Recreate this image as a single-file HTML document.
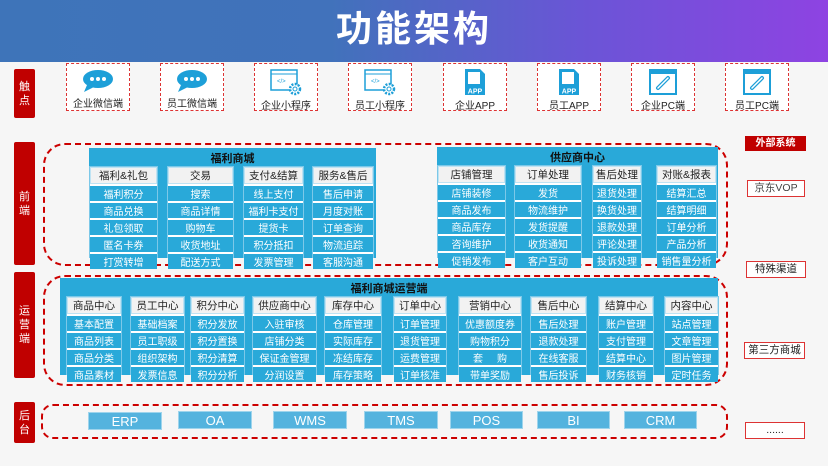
<!DOCTYPE html>
<html><head><meta charset="utf-8">
<style>
*{margin:0;padding:0;box-sizing:border-box}
body{width:828px;height:466px;overflow:hidden;background:#f6f6f6;font-family:"Liberation Sans","Noto Sans CJK SC",sans-serif;position:relative}
.a{position:absolute}
.hdr{left:0;top:0;width:828px;height:62px;background:linear-gradient(90deg,#3e74b9 0%,#4172bb 40%,#6a55d6 70%,#8e43e2 100%)}
.title{left:0;top:0;width:828px;height:62px;line-height:58px;text-align:center;color:#fff;font-size:36px;font-weight:bold;letter-spacing:3px}
.lab{background:#c00000;color:#fff;font-size:11px;width:21px;display:flex;align-items:center;justify-content:center;text-align:center;line-height:14px;border-radius:2px}
.tp{width:64px;height:48px;border:1.5px dashed #d33;text-align:center;font-size:10px;color:#222;background:#fff}
.tp svg{display:block;margin:4px auto 1px}
.dash{border:2.5px dashed #c00;border-radius:22px}
.panel{background:#29a9d9}
.ph{color:#111;font-size:11px;font-weight:bold;text-align:center}
.col{background:#fff;display:flex;flex-direction:column;gap:2px;border:1px solid #7cc8e8}
.col .h{background:#f2f2f2;color:#222;font-size:10.5px;text-align:center;border:1px solid #bfe3f3}
.col .i{background:#29a9d9;color:#fff;font-size:10px;text-align:center;flex:1;display:flex;align-items:center;justify-content:center}
.bk{background:#54b3de;color:#fff;font-size:13px;text-align:center;height:18px;line-height:18px;border:1px solid #9ed4ec}
.ext{border:1.5px solid #d33;background:#fff;font-size:10.5px;color:#222;text-align:center}
</style></head><body>
<div class="a hdr"></div>
<div class="a title">功能架构</div>

<div class="a lab" style="left:14px;top:69px;height:49px">触<br>点</div>
<div class="a lab" style="left:14px;top:142px;height:123px">前<br>端</div>
<div class="a lab" style="left:14px;top:272px;height:106px">运<br>营<br>端</div>
<div class="a lab" style="left:14px;top:402px;height:41px">后<br>台</div>

<!-- touch points -->
<div class="a tp" style="left:66px;top:63px"><svg width="34" height="26" viewBox="0 0 34 26"><ellipse cx="17" cy="11" rx="15" ry="9" fill="#1d9fd8"/><path d="M6 17 L3 24 L13 19Z" fill="#1d9fd8"/><circle cx="11" cy="11" r="2" fill="#fff"/><circle cx="17" cy="11" r="2" fill="#fff"/><circle cx="23" cy="11" r="2" fill="#fff"/></svg>企业微信端</div>
<div class="a tp" style="left:160px;top:63px"><svg width="34" height="26" viewBox="0 0 34 26"><ellipse cx="17" cy="11" rx="15" ry="9" fill="#1d9fd8"/><path d="M6 17 L3 24 L13 19Z" fill="#1d9fd8"/><circle cx="11" cy="11" r="2" fill="#fff"/><circle cx="17" cy="11" r="2" fill="#fff"/><circle cx="23" cy="11" r="2" fill="#fff"/></svg>员工微信端</div>
<div class="a tp" style="left:254px;top:63px"><svg width="34" height="28" viewBox="0 0 34 28"><rect x="2" y="2" width="26" height="20" fill="#fff" stroke="#1d9fd8" stroke-width="1.5"/><line x1="2" y1="6" x2="28" y2="6" stroke="#1d9fd8"/><text x="8" y="15" font-size="6" fill="#1d9fd8">&lt;/&gt;</text><circle cx="26" cy="21" r="5" fill="#fff" stroke="#1d9fd8" stroke-width="2.5" stroke-dasharray="2 1.3"/><circle cx="26" cy="21" r="2" fill="none" stroke="#1d9fd8"/></svg>企业小程序</div>
<div class="a tp" style="left:348px;top:63px"><svg width="34" height="28" viewBox="0 0 34 28"><rect x="2" y="2" width="26" height="20" fill="#fff" stroke="#1d9fd8" stroke-width="1.5"/><line x1="2" y1="6" x2="28" y2="6" stroke="#1d9fd8"/><text x="8" y="15" font-size="6" fill="#1d9fd8">&lt;/&gt;</text><circle cx="26" cy="21" r="5" fill="#fff" stroke="#1d9fd8" stroke-width="2.5" stroke-dasharray="2 1.3"/><circle cx="26" cy="21" r="2" fill="none" stroke="#1d9fd8"/></svg>员工小程序</div>
<div class="a tp" style="left:443px;top:63px"><svg width="24" height="28" viewBox="0 0 24 28"><path d="M2 1 H17 L22 6 V27 H2Z" fill="#1d9fd8"/><rect x="5" y="4" width="12" height="12" fill="#fff"/><rect x="3" y="19" width="18" height="7" fill="#1d9fd8"/><text x="12" y="25.5" font-size="7" font-weight="bold" fill="#fff" text-anchor="middle">APP</text></svg>企业APP</div>
<div class="a tp" style="left:537px;top:63px"><svg width="24" height="28" viewBox="0 0 24 28"><path d="M2 1 H17 L22 6 V27 H2Z" fill="#1d9fd8"/><rect x="5" y="4" width="12" height="12" fill="#fff"/><rect x="3" y="19" width="18" height="7" fill="#1d9fd8"/><text x="12" y="25.5" font-size="7" font-weight="bold" fill="#fff" text-anchor="middle">APP</text></svg>员工APP</div>
<div class="a tp" style="left:631px;top:63px"><svg width="30" height="28" viewBox="0 0 30 28"><rect x="1" y="1" width="28" height="26" fill="#1d9fd8"/><rect x="3" y="6" width="24" height="19" fill="#fff"/><path d="M10 20 L20 10" stroke="#1d9fd8" stroke-width="4" stroke-linecap="round"/><path d="M10 20 L20 10" stroke="#fff" stroke-width="1.5" stroke-linecap="round"/></svg>企业PC端</div>
<div class="a tp" style="left:725px;top:63px"><svg width="30" height="28" viewBox="0 0 30 28"><rect x="1" y="1" width="28" height="26" fill="#1d9fd8"/><rect x="3" y="6" width="24" height="19" fill="#fff"/><path d="M10 20 L20 10" stroke="#1d9fd8" stroke-width="4" stroke-linecap="round"/><path d="M10 20 L20 10" stroke="#fff" stroke-width="1.5" stroke-linecap="round"/></svg>员工PC端</div>

<!-- front -->
<div class="a dash" style="left:43px;top:143px;width:685px;height:123px"></div>
<div class="a panel" style="left:89px;top:148px;width:287px;height:110px"></div>
<div class="a ph" style="left:89px;top:150px;width:287px">福利商城</div>
<div class="a col" style="left:89px;top:166px;width:69px;height:92px"><div class="h">福利&amp;礼包</div><div class="i">福利积分</div><div class="i">商品兑换</div><div class="i">礼包领取</div><div class="i">匿名卡券</div><div class="i">打赏转增</div></div>
<div class="a col" style="left:167px;top:166px;width:67px;height:92px"><div class="h">交易</div><div class="i">搜索</div><div class="i">商品详情</div><div class="i">购物车</div><div class="i">收货地址</div><div class="i">配送方式</div></div>
<div class="a col" style="left:243px;top:166px;width:61px;height:92px"><div class="h">支付&amp;结算</div><div class="i">线上支付</div><div class="i">福利卡支付</div><div class="i">提货卡</div><div class="i">积分抵扣</div><div class="i">发票管理</div></div>
<div class="a col" style="left:312px;top:166px;width:62px;height:92px"><div class="h">服务&amp;售后</div><div class="i">售后申请</div><div class="i">月度对账</div><div class="i">订单查询</div><div class="i">物流追踪</div><div class="i">客服沟通</div></div>

<div class="a panel" style="left:437px;top:147px;width:281px;height:111px"></div>
<div class="a ph" style="left:437px;top:149px;width:281px">供应商中心</div>
<div class="a col" style="left:437px;top:165px;width:69px;height:93px"><div class="h">店铺管理</div><div class="i">店铺装修</div><div class="i">商品发布</div><div class="i">商品库存</div><div class="i">咨询维护</div><div class="i">促销发布</div></div>
<div class="a col" style="left:514px;top:165px;width:68px;height:93px"><div class="h">订单处理</div><div class="i">发货</div><div class="i">物流维护</div><div class="i">发货提醒</div><div class="i">收货通知</div><div class="i">客户互动</div></div>
<div class="a col" style="left:592px;top:165px;width:50px;height:93px"><div class="h">售后处理</div><div class="i">退货处理</div><div class="i">换货处理</div><div class="i">退款处理</div><div class="i">评论处理</div><div class="i">投诉处理</div></div>
<div class="a col" style="left:656px;top:165px;width:61px;height:93px"><div class="h">对账&amp;报表</div><div class="i">结算汇总</div><div class="i">结算明细</div><div class="i">订单分析</div><div class="i">产品分析</div><div class="i">销售量分析</div></div>

<!-- ops -->
<div class="a dash" style="left:43px;top:275px;width:685px;height:111px"></div>
<div class="a panel" style="left:60px;top:278px;width:658px;height:97px"></div>
<div class="a ph" style="left:60px;top:280px;width:658px">福利商城运营端</div>
<div class="a col" style="left:66px;top:296px;width:56px;height:79px"><div class="h">商品中心</div><div class="i">基本配置</div><div class="i">商品列表</div><div class="i">商品分类</div><div class="i">商品素材</div></div>
<div class="a col" style="left:130px;top:296px;width:55px;height:79px"><div class="h">员工中心</div><div class="i">基础档案</div><div class="i">员工职级</div><div class="i">组织架构</div><div class="i">发票信息</div></div>
<div class="a col" style="left:190px;top:296px;width:55px;height:79px"><div class="h">积分中心</div><div class="i">积分发放</div><div class="i">积分置换</div><div class="i">积分清算</div><div class="i">积分分析</div></div>
<div class="a col" style="left:252px;top:296px;width:65px;height:79px"><div class="h">供应商中心</div><div class="i">入驻审核</div><div class="i">店铺分类</div><div class="i">保证金管理</div><div class="i">分润设置</div></div>
<div class="a col" style="left:324px;top:296px;width:58px;height:79px"><div class="h">库存中心</div><div class="i">仓库管理</div><div class="i">实际库存</div><div class="i">冻结库存</div><div class="i">库存策略</div></div>
<div class="a col" style="left:393px;top:296px;width:54px;height:79px"><div class="h">订单中心</div><div class="i">订单管理</div><div class="i">退货管理</div><div class="i">运费管理</div><div class="i">订单核准</div></div>
<div class="a col" style="left:458px;top:296px;width:64px;height:79px"><div class="h">营销中心</div><div class="i">优惠额度券</div><div class="i">购物积分</div><div class="i">套&nbsp;&nbsp;&nbsp;&nbsp;&nbsp;购</div><div class="i">带单奖励</div></div>
<div class="a col" style="left:530px;top:296px;width:57px;height:79px"><div class="h">售后中心</div><div class="i">售后处理</div><div class="i">退款处理</div><div class="i">在线客服</div><div class="i">售后投诉</div></div>
<div class="a col" style="left:598px;top:296px;width:56px;height:79px"><div class="h">结算中心</div><div class="i">账户管理</div><div class="i">支付管理</div><div class="i">结算中心</div><div class="i">财务核销</div></div>
<div class="a col" style="left:664px;top:296px;width:55px;height:79px"><div class="h">内容中心</div><div class="i">站点管理</div><div class="i">文章管理</div><div class="i">图片管理</div><div class="i">定时任务</div></div>

<!-- backend -->
<div class="a dash" style="left:41px;top:404px;width:687px;height:35px;border-radius:12px"></div>
<div class="a bk" style="left:88px;top:412px;width:74px">ERP</div>
<div class="a bk" style="left:178px;top:411px;width:74px">OA</div>
<div class="a bk" style="left:273px;top:411px;width:74px">WMS</div>
<div class="a bk" style="left:364px;top:411px;width:74px">TMS</div>
<div class="a bk" style="left:450px;top:411px;width:73px">POS</div>
<div class="a bk" style="left:537px;top:411px;width:73px">BI</div>
<div class="a bk" style="left:624px;top:411px;width:73px">CRM</div>

<!-- external -->
<div class="a" style="left:745px;top:136px;width:61px;height:15px;background:#c00000;color:#fff;font-size:10px;font-weight:bold;text-align:center;line-height:15px">外部系统</div>
<div class="a ext" style="left:747px;top:180px;width:58px;height:17px;line-height:14px;color:#444">京东VOP</div>
<div class="a ext" style="left:746px;top:261px;width:60px;height:17px;line-height:14px">特殊渠道</div>
<div class="a ext" style="left:744px;top:342px;width:61px;height:17px;line-height:14px">第三方商城</div>
<div class="a ext" style="left:745px;top:422px;width:60px;height:17px;line-height:14px">......</div>
</body></html>
